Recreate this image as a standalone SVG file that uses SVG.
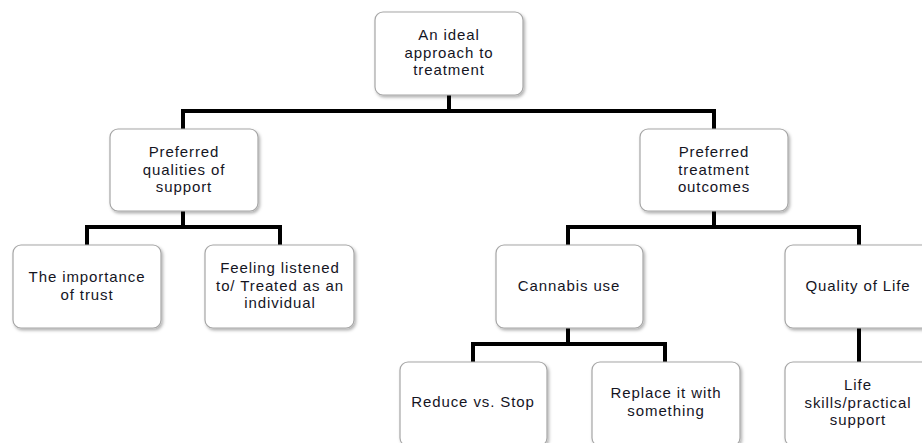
<svg xmlns="http://www.w3.org/2000/svg" width="922" height="443" viewBox="0 0 922 443">
<defs>
<filter id="sh" x="-10%" y="-10%" width="125%" height="130%">
<feDropShadow dx="1.5" dy="2" stdDeviation="1.5" flood-color="#000" flood-opacity="0.3"/>
</filter>
<style>
.box{fill:#fff;stroke:#a6a6a6;stroke-width:1.2;filter:url(#sh)}
.t{font-family:"Liberation Sans",Arial,sans-serif;font-size:15px;fill:#15151f;text-anchor:middle;letter-spacing:0.9px}
.c{fill:none;stroke:#000;stroke-width:4;stroke-linejoin:miter}
</style>
</defs>
<rect width="922" height="443" fill="#fff"/>
<g id="connectors">
<path class="c" d="M449,95 V111 M183,129 V111 H714 V129"/>
<path class="c" d="M183,211 V227 M87,245 V227 H280 V245"/>
<path class="c" d="M714,211 V227 M568,245 V227 H859 V245"/>
<path class="c" d="M568,328 V344 M473,362 V344 H665 V362"/>
<path class="c" d="M859,328 V362"/>
</g>
<g id="root"><rect class="box" x="375" y="12" width="148" height="83" rx="8"/>
<text class="t" x="449" y="40">An ideal</text><text class="t" x="449" y="57.5">approach to</text><text class="t" x="449" y="75">treatment</text></g>
<g id="qualities"><rect class="box" x="110" y="129" width="148" height="82" rx="8"/>
<text class="t" x="184" y="157">Preferred</text><text class="t" x="184" y="174.5">qualities of</text><text class="t" x="184" y="192">support</text></g>
<g id="outcomes"><rect class="box" x="640" y="129" width="148" height="82" rx="8"/>
<text class="t" x="714" y="157">Preferred</text><text class="t" x="714" y="174.5">treatment</text><text class="t" x="714" y="192">outcomes</text></g>
<g id="trust"><rect class="box" x="13" y="245" width="148" height="83" rx="8"/>
<text class="t" x="87" y="282">The importance</text><text class="t" x="87" y="299.5">of trust</text></g>
<g id="listened"><rect class="box" x="205" y="245" width="149" height="83" rx="8"/>
<text class="t" x="280" y="273">Feeling listened</text><text class="t" x="280" y="290.5">to/ Treated as an</text><text class="t" x="280" y="308">individual</text></g>
<g id="cannabis"><rect class="box" x="496" y="245" width="147" height="83" rx="8"/>
<text class="t" x="569" y="291">Cannabis use</text></g>
<g id="quality"><rect class="box" x="785" y="245" width="148" height="83" rx="8"/>
<text class="t" x="858" y="291">Quality of Life</text></g>
<g id="reduce"><rect class="box" x="400" y="362" width="147" height="84" rx="8"/>
<text class="t" x="473" y="407">Reduce vs. Stop</text></g>
<g id="replace"><rect class="box" x="592" y="362" width="148" height="84" rx="8"/>
<text class="t" x="666" y="398">Replace it with</text><text class="t" x="666" y="415.5">something</text></g>
<g id="lifeskills"><rect class="box" x="785" y="362" width="148" height="84" rx="8"/>
<text class="t" x="858" y="390">Life</text><text class="t" x="858" y="407.5">skills/practical</text><text class="t" x="858" y="425">support</text></g>
</svg>
